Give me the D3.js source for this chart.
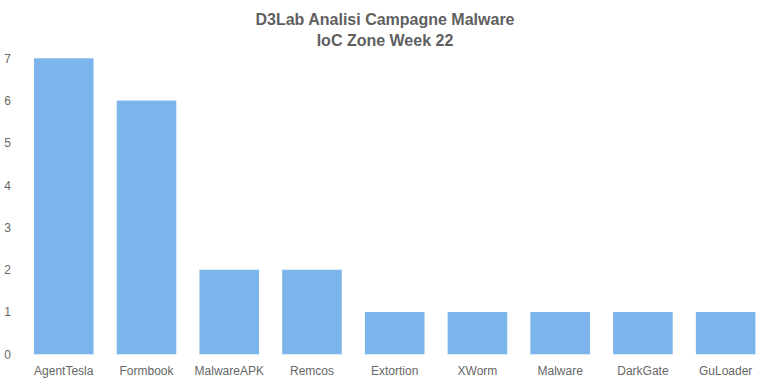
<!DOCTYPE html>
<html>
<head>
<meta charset="utf-8">
<script src="https://cdn.jsdelivr.net/npm/d3@7"></script>
<style>
  body { margin: 0; background: #fff; }
  text { font-family: "Liberation Sans", Arial, sans-serif; }
</style>
</head>
<body>
<div class="bar"></div>
<script>
var categories = ["AgentTesla", "Formbook", "MalwareAPK", "Remcos", "Extortion", "XWorm", "Malware", "DarkGate", "GuLoader"];
var values = [7, 6, 2, 2, 1, 1, 1, 1, 1];
var yTicks = [0, 1, 2, 3, 4, 5, 6, 7];
var titleLines = ["D3Lab Analisi Campagne Malware", "IoC Zone Week 22"];

var width = 770;
var height = 385;

var svg = d3.select('.bar')
    .append('svg')
    .attr('width', width)
    .attr('height', height);

var scaleX = d3.scaleBand()
    .domain(categories)
    .range([22.4, 767])
    .paddingInner(0.28)
    .paddingOuter(0.14);

var scaleY = d3.scaleLinear()
    .domain([0, 7])
    .range([354.3, 58.3]);

svg.selectAll('rect')
    .data(values)
    .enter()
    .append('rect')
    .attr('fill', '#7cb5ec')
    .attr('x', (d, i) => scaleX(categories[i]))
    .attr('y', d => scaleY(d))
    .attr('width', scaleX.bandwidth())
    .attr('height', d => scaleY(0) - scaleY(d));

// y labels
var axisY = d3.axisLeft(scaleY)
    .tickValues(yTicks)
    .tickFormat(d3.format('d'))
    .tickSize(0)
    .tickPadding(0);
var gy = svg.append('g')
    .attr('transform', 'translate(11,0)')
    .call(axisY);
gy.select('.domain').remove();
gy.selectAll('text')
    .attr('fill', '#666')
    .style('font-size', '12px')
    .style('font-family', '"Liberation Sans", Arial, sans-serif');

// x labels
var axisX = d3.axisBottom(scaleX).tickSize(0).tickPadding(0);
var gx = svg.append('g')
    .attr('transform', 'translate(0,366)')
    .call(axisX);
gx.select('.domain').remove();
gx.selectAll('text')
    .attr('fill', '#666')
    .style('font-size', '12px')
    .style('font-family', '"Liberation Sans", Arial, sans-serif');

svg.selectAll('.title')
    .data(titleLines)
    .enter()
    .append('text')
    .attr('class', 'title')
    .attr('x', 385)
    .attr('y', (d, i) => 25 + i * 21)
    .style('text-anchor', 'middle')
    .style('font-size', '16px')
    .style('font-weight', 'bold')
    .attr('fill', '#5f5f5f')
    .text(d => d);
</script>
</body>
</html>
